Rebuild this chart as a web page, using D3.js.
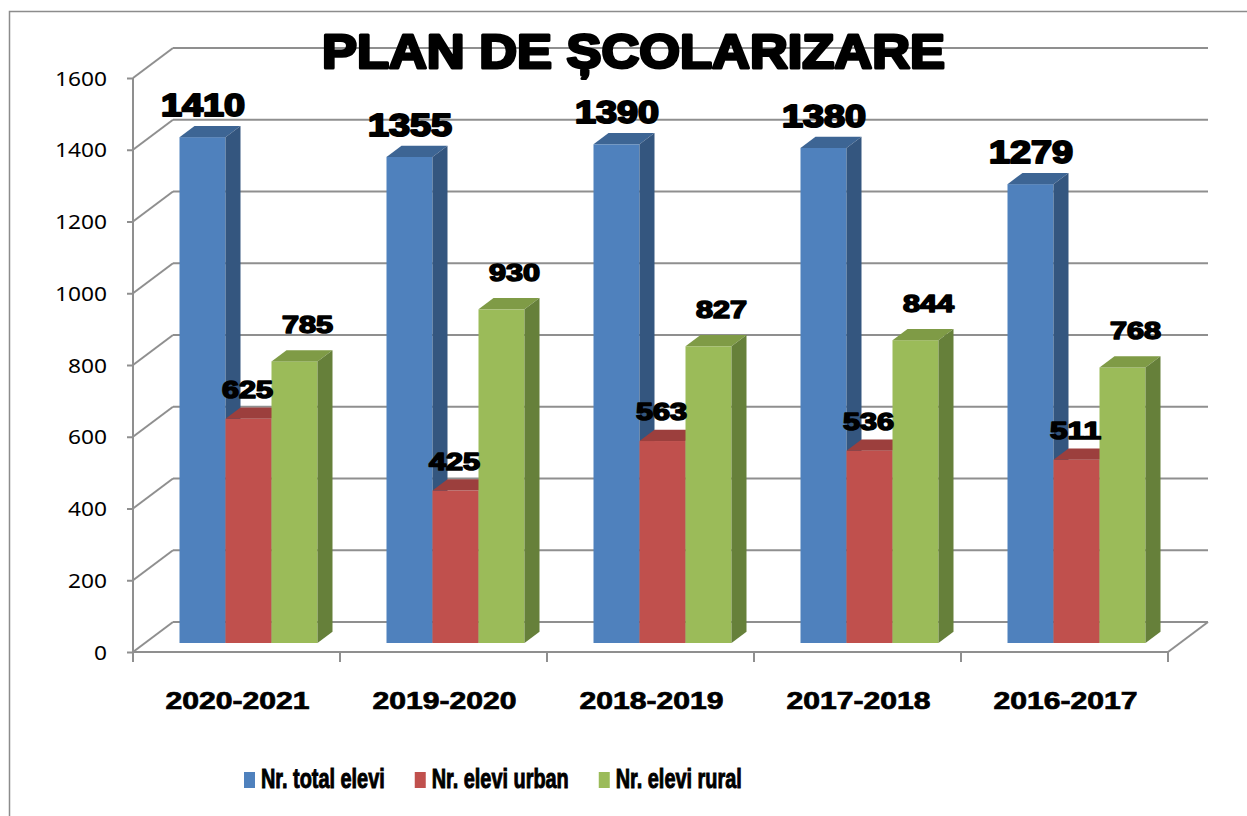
<!DOCTYPE html>
<html>
<head>
<meta charset="utf-8">
<script src="https://cdn.jsdelivr.net/npm/d3@7"></script>
<style>
  body { margin: 0; background: #fff; }
</style>
</head>
<body>
<script>
// data
const categories = ['2020-2021', '2019-2020', '2018-2019', '2017-2018', '2016-2017'];
const seriesNames = ['Nr. total elevi', 'Nr. elevi urban', 'Nr. elevi rural'];
const totalValues = [1410, 1355, 1390, 1380, 1279];
const urbanValues = [625, 425, 563, 536, 511];
const ruralValues = [785, 930, 827, 844, 768];
const yTicks = [0, 200, 400, 600, 800, 1000, 1200, 1400, 1600];
const titleText = 'PLAN DE ȘCOLARIZARE';

const seriesValues = [totalValues, urbanValues, ruralValues];
const colors = [
  {front: '#4f81bd', top: '#3d6594', side: '#34567f'},
  {front: '#c0504d', top: '#9c3f3d', side: '#8c3835'},
  {front: '#9bbb59', top: '#7f9b46', side: '#66803a'}
];

const width = 1247, height = 816;
const wallDX = 40, wallDY = 30;      // depth of the 3d box
const barFront = 12, barBack = 27;   // bar depth inside the box
const k = wallDY / wallDX;
const gridColor = '#8f8f8f';

var svg = d3.select('body')
  .append('svg')
  .attr('width', width)
  .attr('height', height)
  .style('font-family', 'Liberation Sans, Arial, sans-serif');

// outer frame
svg.append('rect')
  .attr('x', 9.5).attr('y', 11.5)
  .attr('width', 1260).attr('height', 830)
  .attr('fill', 'none')
  .attr('stroke', '#8c8c8c')
  .attr('stroke-width', 1.5);

// scales
let x = d3.scaleBand()
  .domain(categories)
  .range([133, 1168]);

let xs = d3.scaleBand()
  .domain(seriesNames)
  .range([x.bandwidth() / 6 * 1, x.bandwidth() / 6 * 5]);

let y = d3.scaleLinear()
  .domain([0, 1600])
  .range([652, 78]);

const x0 = x.range()[0], x1 = x.range()[1];

// back wall + side wall gridlines
let grid = svg.append('g').attr('id', 'grid');

grid.selectAll('.hline').data(yTicks)
  .enter().append('line')
  .attr('class', 'hline')
  .attr('x1', x0 + wallDX).attr('x2', x1 + wallDX)
  .attr('y1', d => y(d) - wallDY).attr('y2', d => y(d) - wallDY)
  .attr('stroke', gridColor).attr('stroke-width', 2);

grid.selectAll('.dline').data(yTicks)
  .enter().append('line')
  .attr('class', 'dline')
  .attr('x1', x0).attr('x2', x0 + wallDX)
  .attr('y1', d => y(d)).attr('y2', d => y(d) - wallDY)
  .attr('stroke', gridColor).attr('stroke-width', 2);

// floor right edge
grid.append('line')
  .attr('x1', x1).attr('y1', y(0))
  .attr('x2', x1 + wallDX).attr('y2', y(0) - wallDY)
  .attr('stroke', gridColor).attr('stroke-width', 2);

// value axis
let yAxis = svg.append('g')
  .attr('transform', `translate(${x0},0)`)
  .call(d3.axisLeft(y).tickValues(yTicks).tickFormat(d3.format('d'))
    .tickSize(6).tickPadding(20).tickSizeOuter(0));
yAxis.select('.domain').remove();
yAxis.append('line')
  .attr('x1', 0).attr('x2', 0)
  .attr('y1', y(1600)).attr('y2', y(0) + 10)
  .attr('stroke', gridColor).attr('stroke-width', 2);
yAxis.selectAll('.tick line').attr('stroke', gridColor).attr('stroke-width', 2);
yAxis.selectAll('.tick text')
  .attr('fill', '#000')
  .attr('font-family', 'Noto Sans, sans-serif')
  .attr('font-size', 20)
  .attr('dy', '0.36em')
  .attr('textLength', function() { return this.textContent.length * 13; })
  .attr('lengthAdjust', 'spacingAndGlyphs');

// category axis
let xAxis = svg.append('g')
  .attr('transform', `translate(0,${y(0)})`);
xAxis.append('line')
  .attr('x1', x0).attr('x2', x1)
  .attr('stroke', gridColor).attr('stroke-width', 2);
xAxis.selectAll('.ctick').data(categories)
  .enter().append('line')
  .attr('class', 'ctick')
  .attr('x1', d => x(d) + x.bandwidth()).attr('x2', d => x(d) + x.bandwidth())
  .attr('y1', 0).attr('y2', 10)
  .attr('stroke', gridColor).attr('stroke-width', 2);
xAxis.selectAll('.clabel').data(categories)
  .enter().append('text')
  .attr('class', 'clabel')
  .attr('x', d => x(d) + x.bandwidth() / 2 + 1)
  .attr('y', 57)
  .attr('text-anchor', 'middle')
  .attr('font-weight', 'bold')
  .attr('font-size', 23)
  .attr('stroke', '#000')
  .attr('stroke-width', 0.7)
  .attr('textLength', d => d.length * 16)
  .attr('lengthAdjust', 'spacingAndGlyphs')
  .text(d => d);

// bars
let barData = [];
categories.forEach((c, i) => {
  seriesNames.forEach((s, j) => {
    barData.push({cat: c, series: s, si: j, value: seriesValues[j][i]});
  });
});

let bars = svg.append('g').attr('id', 'bars');

const fdx = barFront, fdy = -barFront * k;
const depth = barBack - barFront, depthY = depth * k;

barData.forEach(d => {
  let left = x(d.cat) + xs(d.series) + fdx;
  let right = left + xs.bandwidth();
  let top = y(d.value) + fdy;
  let bottom = y(0) + fdy;
  let g = bars.append('g');
  g.append('rect')
    .attr('x', left).attr('y', top)
    .attr('width', xs.bandwidth()).attr('height', bottom - top)
    .attr('fill', colors[d.si].front);
  g.append('path')
    .attr('d', `M${left},${top}L${right},${top}L${right + depth},${top - depthY}L${left + depth},${top - depthY}Z`)
    .attr('fill', colors[d.si].top);
  g.append('path')
    .attr('d', `M${right},${top}L${right + depth},${top - depthY}L${right + depth},${bottom - depthY}L${right},${bottom}Z`)
    .attr('fill', colors[d.si].side);
});

// data labels
svg.append('g').selectAll('.vlabel').data(barData)
  .enter().append('text')
  .attr('class', 'vlabel')
  .attr('x', d => x(d.cat) + xs(d.series) + fdx + xs.bandwidth() / 2 + (d.si == 0 ? 0.5 : d.si == 2 ? 13 : -1))
  .attr('y', d => y(d.value) + fdy - (d.si == 2 ? 28 : 21))
  .attr('text-anchor', 'middle')
  .attr('font-weight', 'bold')
  .attr('font-size', d => d.si == 0 ? 31 : 24)
  .attr('fill', '#000')
  .attr('stroke', '#000')
  .attr('stroke-width', d => d.si == 0 ? 2 : 1.6)
  .attr('stroke-linejoin', 'round')
  .attr('textLength', d => String(d.value).length * (d.si == 0 ? 21 : 17))
  .attr('lengthAdjust', 'spacingAndGlyphs')
  .text(d => d.value);

// title
svg.append('text')
  .attr('x', 322)
  .attr('y', 68)
  .attr('font-weight', 'bold')
  .attr('font-size', 49)
  .attr('fill', '#000')
  .attr('stroke', '#000')
  .attr('stroke-width', 3)
  .attr('stroke-linejoin', 'round')
  .attr('textLength', 623)
  .attr('lengthAdjust', 'spacingAndGlyphs')
  .text(titleText);

// legend
let legend = svg.append('g').attr('id', 'legend');
let lx = 244;
seriesNames.forEach((s, j) => {
  legend.append('rect')
    .attr('x', lx).attr('y', 772)
    .attr('width', 11).attr('height', 16)
    .attr('fill', colors[j].front);
  let t = legend.append('text')
    .attr('x', lx + 17)
    .attr('y', 788)
    .attr('font-weight', 'bold')
    .attr('font-size', 28)
    .attr('fill', '#000')
    .attr('stroke', '#000')
    .attr('stroke-width', 1)
    .text(s);
  let w = t.node().getComputedTextLength() * 0.71;
  t.attr('textLength', w).attr('lengthAdjust', 'spacingAndGlyphs');
  lx += 17 + w + 30;
});
</script>
</body>
</html>
